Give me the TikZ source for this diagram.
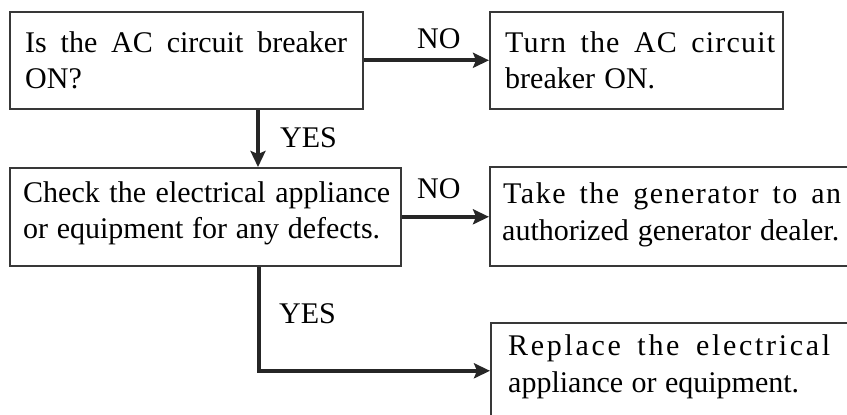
\documentclass[tikz,border=0pt]{standalone}
\usepackage{fontspec}
\setmainfont{Liberation Serif}
\newfontfamily\lsa[LetterSpace=4]{Liberation Serif}
\newfontfamily\lsb[LetterSpace=5]{Liberation Serif}
\newfontfamily\lsc[LetterSpace=9]{Liberation Serif}
\usetikzlibrary{arrows.meta}
\begin{document}
\begin{tikzpicture}[x=1pt,y=-1pt,
  box/.style={draw=black!78,line width=1.6pt,inner sep=0pt,anchor=north west},
  txt/.style={inner sep=0pt,anchor=base west,text=black,font=\fontsize{30}{36}\selectfont},
  arr/.style={line width=3.8pt,draw=black!85,-{Stealth[length=16pt,width=15pt,inset=3pt]}}]
\useasboundingbox (0,0) rectangle (847,415);
\clip (0,0) rectangle (847,415);
% boxes
\node[box,minimum width=353pt,minimum height=97pt] (b1) at (9,11) {};
\node[box,minimum width=293pt,minimum height=97pt] (b2) at (489,11) {};
\node[box,minimum width=391pt,minimum height=98pt] (b3) at (9,167) {};
\node[box,minimum width=380pt,minimum height=99pt] (b4) at (489,166) {};
\node[box,minimum width=380pt,minimum height=96pt] (b5) at (490,322) {};
% texts
\node[txt] (t1a) at (25,52) {\makebox[322pt][s]{Is the AC circuit breaker}};
\node[txt] (t1b) at (25,88) {ON?};
\node[txt] (t2a) at (505,52) {\makebox[270pt][s]{\lsa Turn the AC circuit}};
\node[txt] (t2b) at (505,88) {\makebox[150pt][s]{breaker\hspace{-4pt} ON.}};
\node[txt] (t3a) at (23,202) {\makebox[367pt][s]{Check the electrical appliance}};
\node[txt] (t3b) at (23,238) {\makebox[357pt][s]{or equipment for any defects.}};
\node[txt] (t4a) at (503,203) {\makebox[338pt][s]{\lsb Take the generator to an}};
\node[txt] (t4b) at (502,240) {\makebox[337pt][s]{authorized generator dealer.}};
\node[txt] (t5a) at (508,355) {\makebox[322pt][s]{\lsc Replace the electrical}};
\node[txt] (t5b) at (508,392) {\makebox[291pt][s]{appliance or equipment.}};
% labels
\node[txt] (no1) at (417,48) {NO};
\node[txt] (yes1) at (280,147) {YES};
\node[txt] (no2) at (417,198) {NO};
\node[txt] (yes2) at (279,323) {YES};
% connectors
\coordinate (c1) at (258,0);
\coordinate (c2) at (259,0);
\draw[arr] (b1.east) -- (b2.west);
\draw[arr] (b1.south -| c1) -- (b3.north -| c1);
\draw[arr] (b3.east) -- (b3.east -| b4.west);
\draw[arr] (b3.south -| c2) |- (b5.west);
\end{tikzpicture}
\end{document}
